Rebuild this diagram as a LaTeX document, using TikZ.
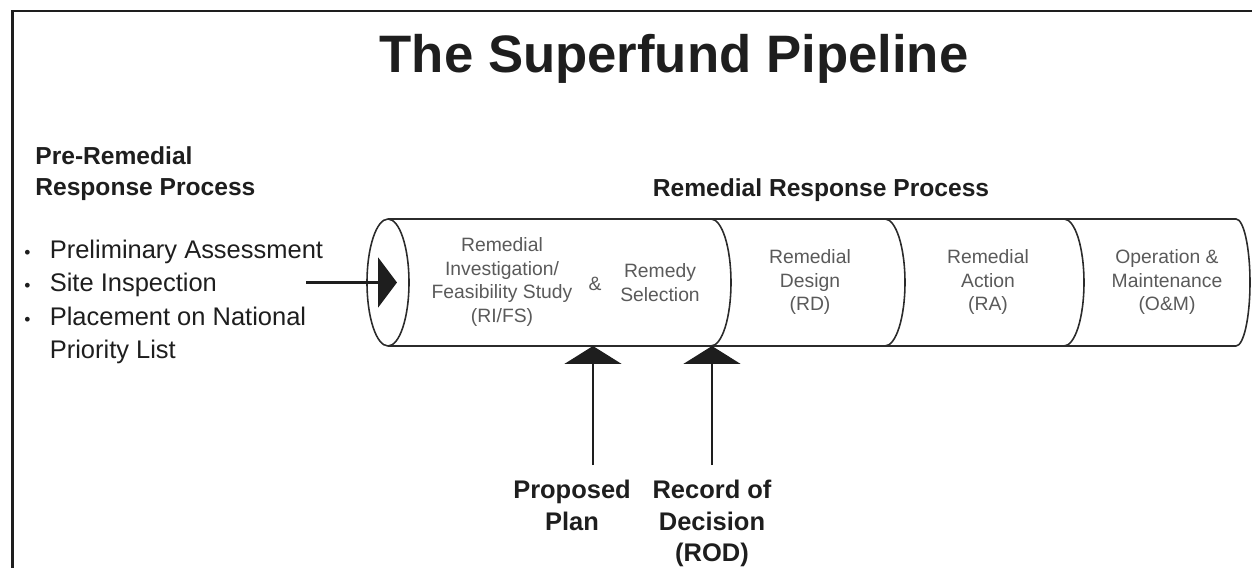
\documentclass[tikz,border=0pt]{standalone}
\usepackage{fontspec}
\setmainfont{Liberation Sans}
\usetikzlibrary{arrows.meta}
\definecolor{pipeline}{HTML}{2B2B2B}
\definecolor{stageink}{HTML}{5A5A5A}
\definecolor{labelink}{HTML}{1E1E1E}
\newcommand{\smallbullet}{{\fontsize{10}{10}\selectfont\textbullet}}
\tikzset{pipe/.style={draw=pipeline,line width=0.9pt}}
\tikzset{titlenode/.style={labelink,font=\fontsize{30}{36}\selectfont\bfseries,inner sep=0pt}}
\tikzset{headnode/.style={labelink,font=\fontsize{14}{17.6}\selectfont\bfseries,inner sep=0pt}}
\tikzset{listnode/.style={labelink,font=\fontsize{14.5}{18.9}\selectfont,inner sep=0pt}}
\tikzset{stagenode/.style={stageink,font=\fontsize{11}{13.6}\selectfont,align=center,inner sep=0pt}}
\tikzset{milenode/.style={labelink,font=\fontsize{14.5}{17.9}\selectfont\bfseries,align=center,inner sep=0pt}}
\tikzset{feedarrow/.style={labelink,line width=1.6pt,-{Triangle[length=0.38cm,width=1cm]}}}
\tikzset{milearrow/.style={labelink,line width=1.6pt,-{Triangle[length=0.36cm,width=1.14cm]}}}
\begin{document}
\begin{tikzpicture}[x=0.02cm,y=-0.02cm]
    \useasboundingbox (0,0) rectangle (1252,568);
    \draw[labelink,line width=0.06cm] (12.5,568) -- (12.5,11) -- (1252,11);

    \node[titlenode,anchor=base] (title) at (674,72) {The Superfund Pipeline};

    \node[headnode,anchor=north west,align=left] (pre) at (35,146)
    {Pre-Remedial\\Response Process};
    \node[headnode,anchor=base] (remedial) at (821,196) {Remedial Response Process};

    \node[listnode,anchor=north west] (steps) at (24,235)
    {\begin{tabular}{@{}c@{\hspace{11pt}}l@{}}
      \smallbullet & Preliminary Assessment\\
      \smallbullet & Site Inspection\\
      \smallbullet & Placement on National\\
                   & Priority List
    \end{tabular}};

    % the pipe
    \draw[pipe] (388,219) -- (1236,219)
      arc[start angle=90,end angle=-90,x radius=0.28cm,y radius=1.27cm] -- (388,346);
    \draw[pipe] (388,282.5) ellipse[x radius=0.42cm,y radius=1.27cm];
    \foreach \x in {711,885,1064}
      \draw[pipe] (\x,219) arc[start angle=90,end angle=-90,x radius=0.4cm,y radius=1.27cm];

    \node[stagenode] (rifs) at (502,282) {Remedial\\Investigation/\\Feasibility Study\\(RI/FS)};
    \node[stagenode] (amp) at (595,284) {\&};
    \node[stagenode] (select) at (660,283) {Remedy\\Selection};
    \node[stagenode] (rd) at (810,282) {Remedial\\Design\\(RD)};
    \node[stagenode] (ra) at (988,282) {Remedial\\Action\\(RA)};
    \node[stagenode] (om) at (1167,282) {Operation \&\\Maintenance\\(O\&M)};

    \node[milenode,anchor=north] (plan) at (572,480) {Proposed\\Plan};
    \node[milenode,anchor=north] (rod) at (712,480) {Record of\\Decision\\(ROD)};

    \coordinate (feed) at (306,282.5);
    \coordinate (inlet) at (397,282.5);
    \coordinate (plantip) at (593,346);
    \coordinate (rodtip) at (712,346);

    \draw[feedarrow] (feed) -- (inlet);
    \draw[milearrow] ([yshift=0.3cm]plan.north -| plantip) -- (plantip);
    \draw[milearrow] ([yshift=0.3cm]rod.north) -- (rodtip);
  \end{tikzpicture}
\end{document}
